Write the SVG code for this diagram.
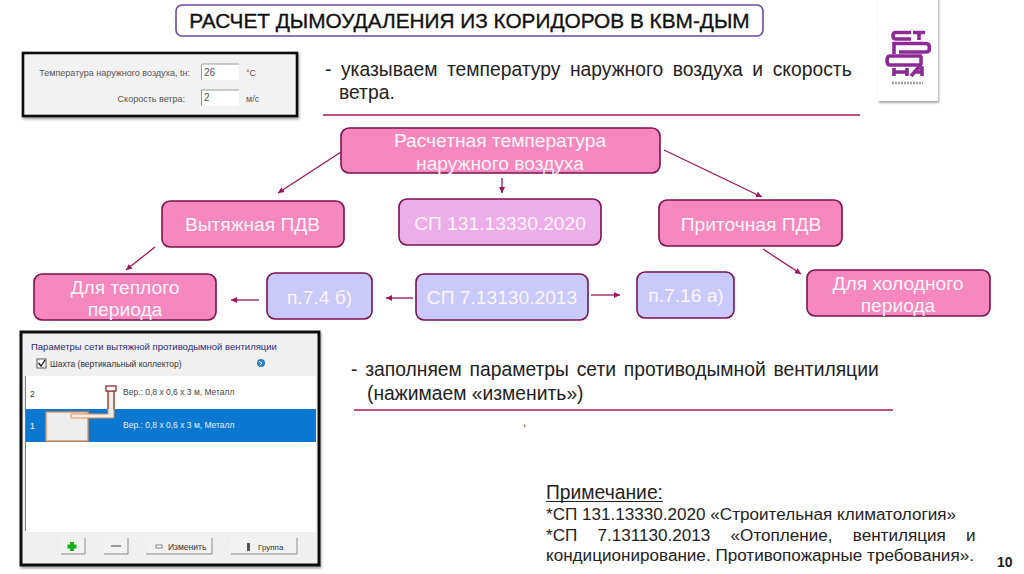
<svg xmlns="http://www.w3.org/2000/svg" width="1024" height="574" viewBox="0 0 1024 574">
<defs>
<marker id="a" markerWidth="8" markerHeight="8" refX="6" refY="3" orient="auto" markerUnits="userSpaceOnUse"><path d="M0 0L6 3L0 6Z" fill="#9b1458"/></marker>
<filter id="s" x="-10%" y="-10%" width="120%" height="120%"><feDropShadow dx="1" dy="2" stdDeviation="1.2" flood-color="#000" flood-opacity=".35"/></filter>
</defs>
<style>
text{font-family:"Liberation Sans",Arial,sans-serif}
.p{fill:#f589bd;stroke:#7b124f;stroke-width:1.6}
.l{fill:#ecaee8;stroke:#7b124f;stroke-width:1.6}
.b{fill:#c9c9fb;stroke:#7b124f;stroke-width:1.6}
.n text{fill:#fdf3f8;font-size:19.2px;text-anchor:middle}
.c line{stroke:#9b1458;stroke-width:1.3;marker-end:url(#a)}
.t{font-size:19.3px;fill:#222}
.k{font-size:17.1px;fill:#222}
.u{font-size:9px;fill:#555}
.btn{fill:#f2f2f2}
.edge{fill:none;stroke:#8a8a8a;stroke-width:1}
</style>
<rect width="1024" height="574" fill="#fff"/>
<g id="title"><rect x="176" y="5" width="587" height="31" rx="6" fill="#fff" stroke="#6a4aa0" stroke-width="1.600"/><text x="469.500" y="27.500" font-size="20.800" text-anchor="middle" fill="#111" stroke="#111" stroke-width=".35">РАСЧЕТ ДЫМОУДАЛЕНИЯ ИЗ КОРИДОРОВ В КВМ-ДЫМ</text></g>

<g id="logo">
<rect x="878" y="-4" width="60" height="105" fill="#fff" filter="url(#s)"/>
<g fill="none" stroke="#8e2a96" stroke-width="3.600">
<path d="M911 32.500H896Q893 32.500 893 35.500V36Q893 39 896 39H911M913 32.500H925M919 32.500V40"/>
<path d="M894 54V43.500H926Q929.500 43.500 929.500 48Q929.500 52 926 52H899"/>
<path d="M922 56H890Q887 56 887 60.500Q887 65 890 65H922M921 56V65"/>
<path d="M894 68V76M907 68V76M894 72H907M911 76L918 68H922V76M913 72H922"/>
</g>
<path d="M892 83H923" stroke="#666" stroke-width="2.500" stroke-dasharray="2 1" opacity=".6"/>
</g>

<g id="screenshot-params">
<rect x="23" y="53" width="274" height="63" fill="#f2f2f2" stroke="#111" stroke-width="2.600" filter="url(#s)"/>
<text class="u" x="190" y="76" text-anchor="end">Температура наружного воздуха, tн:</text>
<text class="u" x="185" y="102" text-anchor="end">Скорость ветра:</text>
<rect x="201" y="64" width="38" height="16" fill="#fff"/><path d="M201.500 80V64H239" fill="none" stroke="#999"/>
<rect x="201" y="90" width="38" height="16" fill="#fff"/><path d="M201.500 106V90H239" fill="none" stroke="#999"/>
<text x="204" y="76" font-size="10" fill="#555">26</text>
<text x="204" y="101" font-size="10" fill="#555">2</text>
<text class="u" x="246" y="76">°C</text>
<text class="u" x="246" y="102">м/с</text>
</g>

<g id="intro-text">
<text class="t" x="325" y="76" word-spacing="4.200">- указываем температуру наружного воздуха и скорость</text>
<text class="t" x="339" y="99">ветра.</text>
<line x1="323" y1="115" x2="860" y2="115" stroke="#b01560" stroke-width="1.600"/>
</g>

<g id="connectors" class="c">
<line x1="341" y1="152" x2="278" y2="193"/>
<line x1="502" y1="178" x2="502" y2="193"/>
<line x1="664" y1="150" x2="762" y2="197"/>
<line x1="155" y1="247" x2="126" y2="270"/>
<line x1="259" y1="300" x2="231" y2="300"/>
<line x1="413" y1="298" x2="386" y2="298"/>
<line x1="591" y1="295" x2="620" y2="295"/>
<line x1="763" y1="249" x2="801" y2="274"/>
</g>

<g id="n-temp" class="n"><rect class="p" x="341" y="128" width="319" height="45" rx="8"/><text x="500" y="147">Расчетная температура</text><text x="500" y="170">наружного воздуха</text></g>
<g id="n-exhaust" class="n"><rect class="p" x="162" y="201" width="182" height="46" rx="8"/><text x="252.500" y="231">Вытяжная ПДВ</text></g>
<g id="n-sp131" class="n"><rect class="l" x="399" y="199" width="202" height="46" rx="8"/><text x="500" y="230">СП 131.13330.2020</text></g>
<g id="n-supply" class="n"><rect class="p" x="659" y="200" width="183" height="46" rx="8"/><text x="751" y="231">Приточная ПДВ</text></g>
<g id="n-warm" class="n"><rect class="p" x="34" y="274" width="182" height="46" rx="8"/><text x="125" y="294">Для теплого</text><text x="125" y="316">периода</text></g>
<g id="n-p74" class="n"><rect class="b" x="267" y="273" width="105" height="46" rx="8"/><text x="319.500" y="304">п.7.4 б)</text></g>
<g id="n-sp7" class="n"><rect class="b" x="416" y="274" width="172" height="46" rx="8"/><text x="502" y="304">СП 7.13130.2013</text></g>
<g id="n-p716" class="n"><rect class="b" x="637" y="272" width="97" height="46" rx="8"/><text x="686" y="302">п.7.16 а)</text></g>
<g id="n-cold" class="n"><rect class="p" x="807" y="270" width="183" height="46" rx="8"/><text x="898" y="290">Для холодного</text><text x="898" y="312">периода</text></g>

<g id="screenshot-network">
<rect x="21" y="332" width="298" height="233" fill="#f0f0f0" stroke="#111" stroke-width="3" filter="url(#s)"/>
<text x="31" y="350" font-size="9.500" fill="#2b2b7a">Параметры сети вытяжной противодымной вентиляции</text>
<rect x="37" y="359" width="9" height="9" fill="#fff" stroke="#555"/><path d="M38.500 363L41 366L45 360" fill="none" stroke="#111" stroke-width="1.300"/>
<text x="50" y="367" font-size="8.500" fill="#333">Шахта (вертикальный коллектор)</text>
<circle cx="261" cy="363" r="4" fill="#2b7fc4"/><path d="M259 361.500L262 363L260 365" fill="none" stroke="#fff"/>
<rect x="26" y="376" width="290" height="36" fill="#fff"/>
<rect x="26" y="409" width="290" height="33" fill="#0a78d0"/>
<rect x="26" y="442" width="290" height="90" fill="#fff"/>
<path d="M25.500 376V531" stroke="#777" fill="none"/>
<text x="30" y="397" font-size="8.500" fill="#333">2</text>
<text x="30" y="429" font-size="8.500" fill="#fff">1</text>
<text x="123" y="395" font-size="8.500" fill="#444">Вер.:  0,8 х 0,6 х 3 м,  Металл</text>
<text x="123" y="428" font-size="8.500" fill="#e4f0fa">Вер.:  0,8 х 0,6 х 3 м,  Металл</text>
<rect x="46" y="412" width="42" height="29" fill="#eee" stroke="#e98a4a" stroke-width="1.300"/>
<path d="M71 414H108V391H114V418H71Z" fill="#eee" stroke="#e98a4a" stroke-width="1"/>
<path d="M108 391V409M114 391V409" stroke="#7b2020" fill="none"/>
<rect x="106" y="386" width="10" height="5" fill="#fff" stroke="#7b2020" stroke-width="1.200"/>
<rect x="61" y="538" width="24" height="16" class="btn"/><path class="edge" d="M85 538V554H61"/><path d="M70 542H74V544.500H76.500V548.500H74V551H70V548.500H67.500V544.500H70Z" fill="#18b018"/>
<rect x="104" y="538" width="24" height="16" class="btn"/><path class="edge" d="M128 538V554H104"/><rect x="111" y="545" width="10" height="2" fill="#999"/>
<rect x="146" y="538" width="66" height="16" class="btn"/><path class="edge" d="M212 538V554H146"/><rect x="156" y="545" width="6" height="3" fill="#fff" stroke="#555" stroke-width=".7"/><text x="168" y="550" font-size="8.500" fill="#333">Изменить</text>
<rect x="231" y="538" width="66" height="16" class="btn"/><path class="edge" d="M297 538V554H231"/><rect x="247" y="543" width="3" height="8" fill="#555"/><text x="258" y="550" font-size="8" fill="#333">Группа</text>
</g>

<g id="network-text">
<text class="t" x="351" y="376" word-spacing="2.400">- заполняем параметры сети противодымной вентиляции</text>
<text class="t" x="367" y="400">(нажимаем «изменить»)</text>
<line x1="354" y1="410" x2="893" y2="410" stroke="#b01560" stroke-width="1.600"/>
<text x="523" y="426" font-size="12" fill="#444">,</text>
</g>

<g id="note">
<text x="546" y="499" font-size="19.300" fill="#222">Примечание:</text>
<line x1="546" y1="501.500" x2="663" y2="501.500" stroke="#222"/>
<text class="k" x="546" y="520">*СП 131.13330.2020 «Строительная климатология»</text>
<text class="k" x="546" y="541" word-spacing="15.500">*СП 7.131130.2013 «Отопление, вентиляция и</text>
<text class="k" x="546" y="561">кондиционирование. Противопожарные требования».</text>
</g>
<text id="page" x="997" y="567" font-size="14" font-weight="700" fill="#222">10</text>
</svg>
